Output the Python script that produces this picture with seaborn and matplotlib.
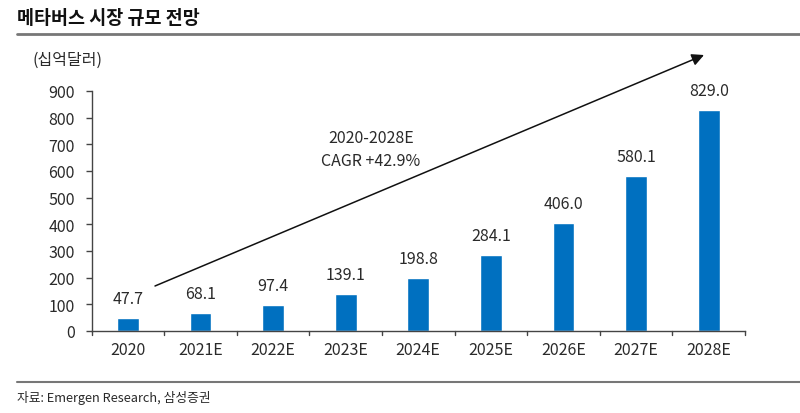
import matplotlib
matplotlib.use("Agg")
import matplotlib.pyplot as plt
import seaborn as sns
import pandas as pd
from matplotlib.lines import Line2D

years = ["2020", "2021E", "2022E", "2023E", "2024E", "2025E", "2026E", "2027E", "2028E"]
values = [47.7, 68.1, 97.4, 139.1, 198.8, 284.1, 406.0, 580.1, 829.0]
yticks = [0, 100, 200, 300, 400, 500, 600, 700, 800, 900]

title = "메타버스 시장 규모 전망"
unit = "(십억달러)"
source = "자료: Emergen Research, 삼성증권"
cagr_text = "2020-2028E\nCAGR +42.9%"

sns.set_theme(style="white")
plt.rcParams['font.family'] = ['Noto Sans CJK KR', 'DejaVu Sans']

df = pd.DataFrame({"year": years, "value": values})

fig = plt.figure(figsize=(8, 4.14), dpi=100)
ax = fig.add_axes([91.5/800, 1-332/414, (745-91.5)/800, (332-92)/414])

sns.barplot(data=df, x="year", y="value", color="#0070C0", width=0.30,
            saturation=1, ax=ax)

ax.set_ylim(0, 900)
ax.set_xlim(-0.5, len(years) - 0.5)
ax.set_yticks(yticks)
ax.set_xlabel("")
ax.set_ylabel("")
txtc = "#2a2a2a"
fs = 11.5
ax.tick_params(axis="y", labelsize=fs, colors="#444444", labelcolor=txtc,
               length=4, width=1, direction="out", pad=8, left=True)
ax.tick_params(axis="x", labelsize=fs, labelcolor=txtc, length=0, pad=7)
for lab in ax.get_xticklabels() + ax.get_yticklabels():
    lab.set_fontweight("light")
# category boundary ticks
for b in [i - 0.5 for i in range(len(years) + 1)]:
    ax.plot([b, b], [0, -16], color="#444444", lw=1, clip_on=False,
            transform=ax.transData)
for s in ["top", "right"]:
    ax.spines[s].set_visible(False)
for s in ["left", "bottom"]:
    ax.spines[s].set_color("#444444")
    ax.spines[s].set_linewidth(1)

for i, v in enumerate(values):
    ax.annotate(f"{v:.1f}", (i, v), xytext=(0, 8), textcoords="offset points",
                ha="center", va="bottom", fontsize=fs, color=txtc,
                fontweight="light")

# growth arrow
ax.annotate("", xy=(704/800, 1-56/414), xytext=(155/800, 1-287/414),
            xycoords="figure fraction", textcoords="figure fraction",
            arrowprops=dict(arrowstyle="-|>", color="#111111", lw=1.1,
                            mutation_scale=18, shrinkA=0, shrinkB=0))
fig.text(371/800, 1-150/414, cagr_text, ha="center", va="center",
         fontsize=fs, color=txtc, linespacing=1.45, fontweight="light")

# header & footer
fig.text(17/800, 1-18/414, title, ha="left", va="center", fontsize=13.3,
         fontweight="bold", color="#111111")
fig.add_artist(Line2D([17/800, 1.0], [1-35/414, 1-35/414], color="#777777",
                      lw=2, transform=fig.transFigure))
fig.text(33/800, 1-60/414, unit, ha="left", va="center", fontsize=fs,
         color=txtc, fontweight="light")
fig.add_artist(Line2D([17/800, 1.0], [1-383/414, 1-383/414], color="#777777",
                      lw=1.5, transform=fig.transFigure))
fig.text(17/800, 1-398/414, source, ha="left", va="center", fontsize=9.2,
         color=txtc, fontweight="light")

fig.savefig("out.png", dpi=100)
